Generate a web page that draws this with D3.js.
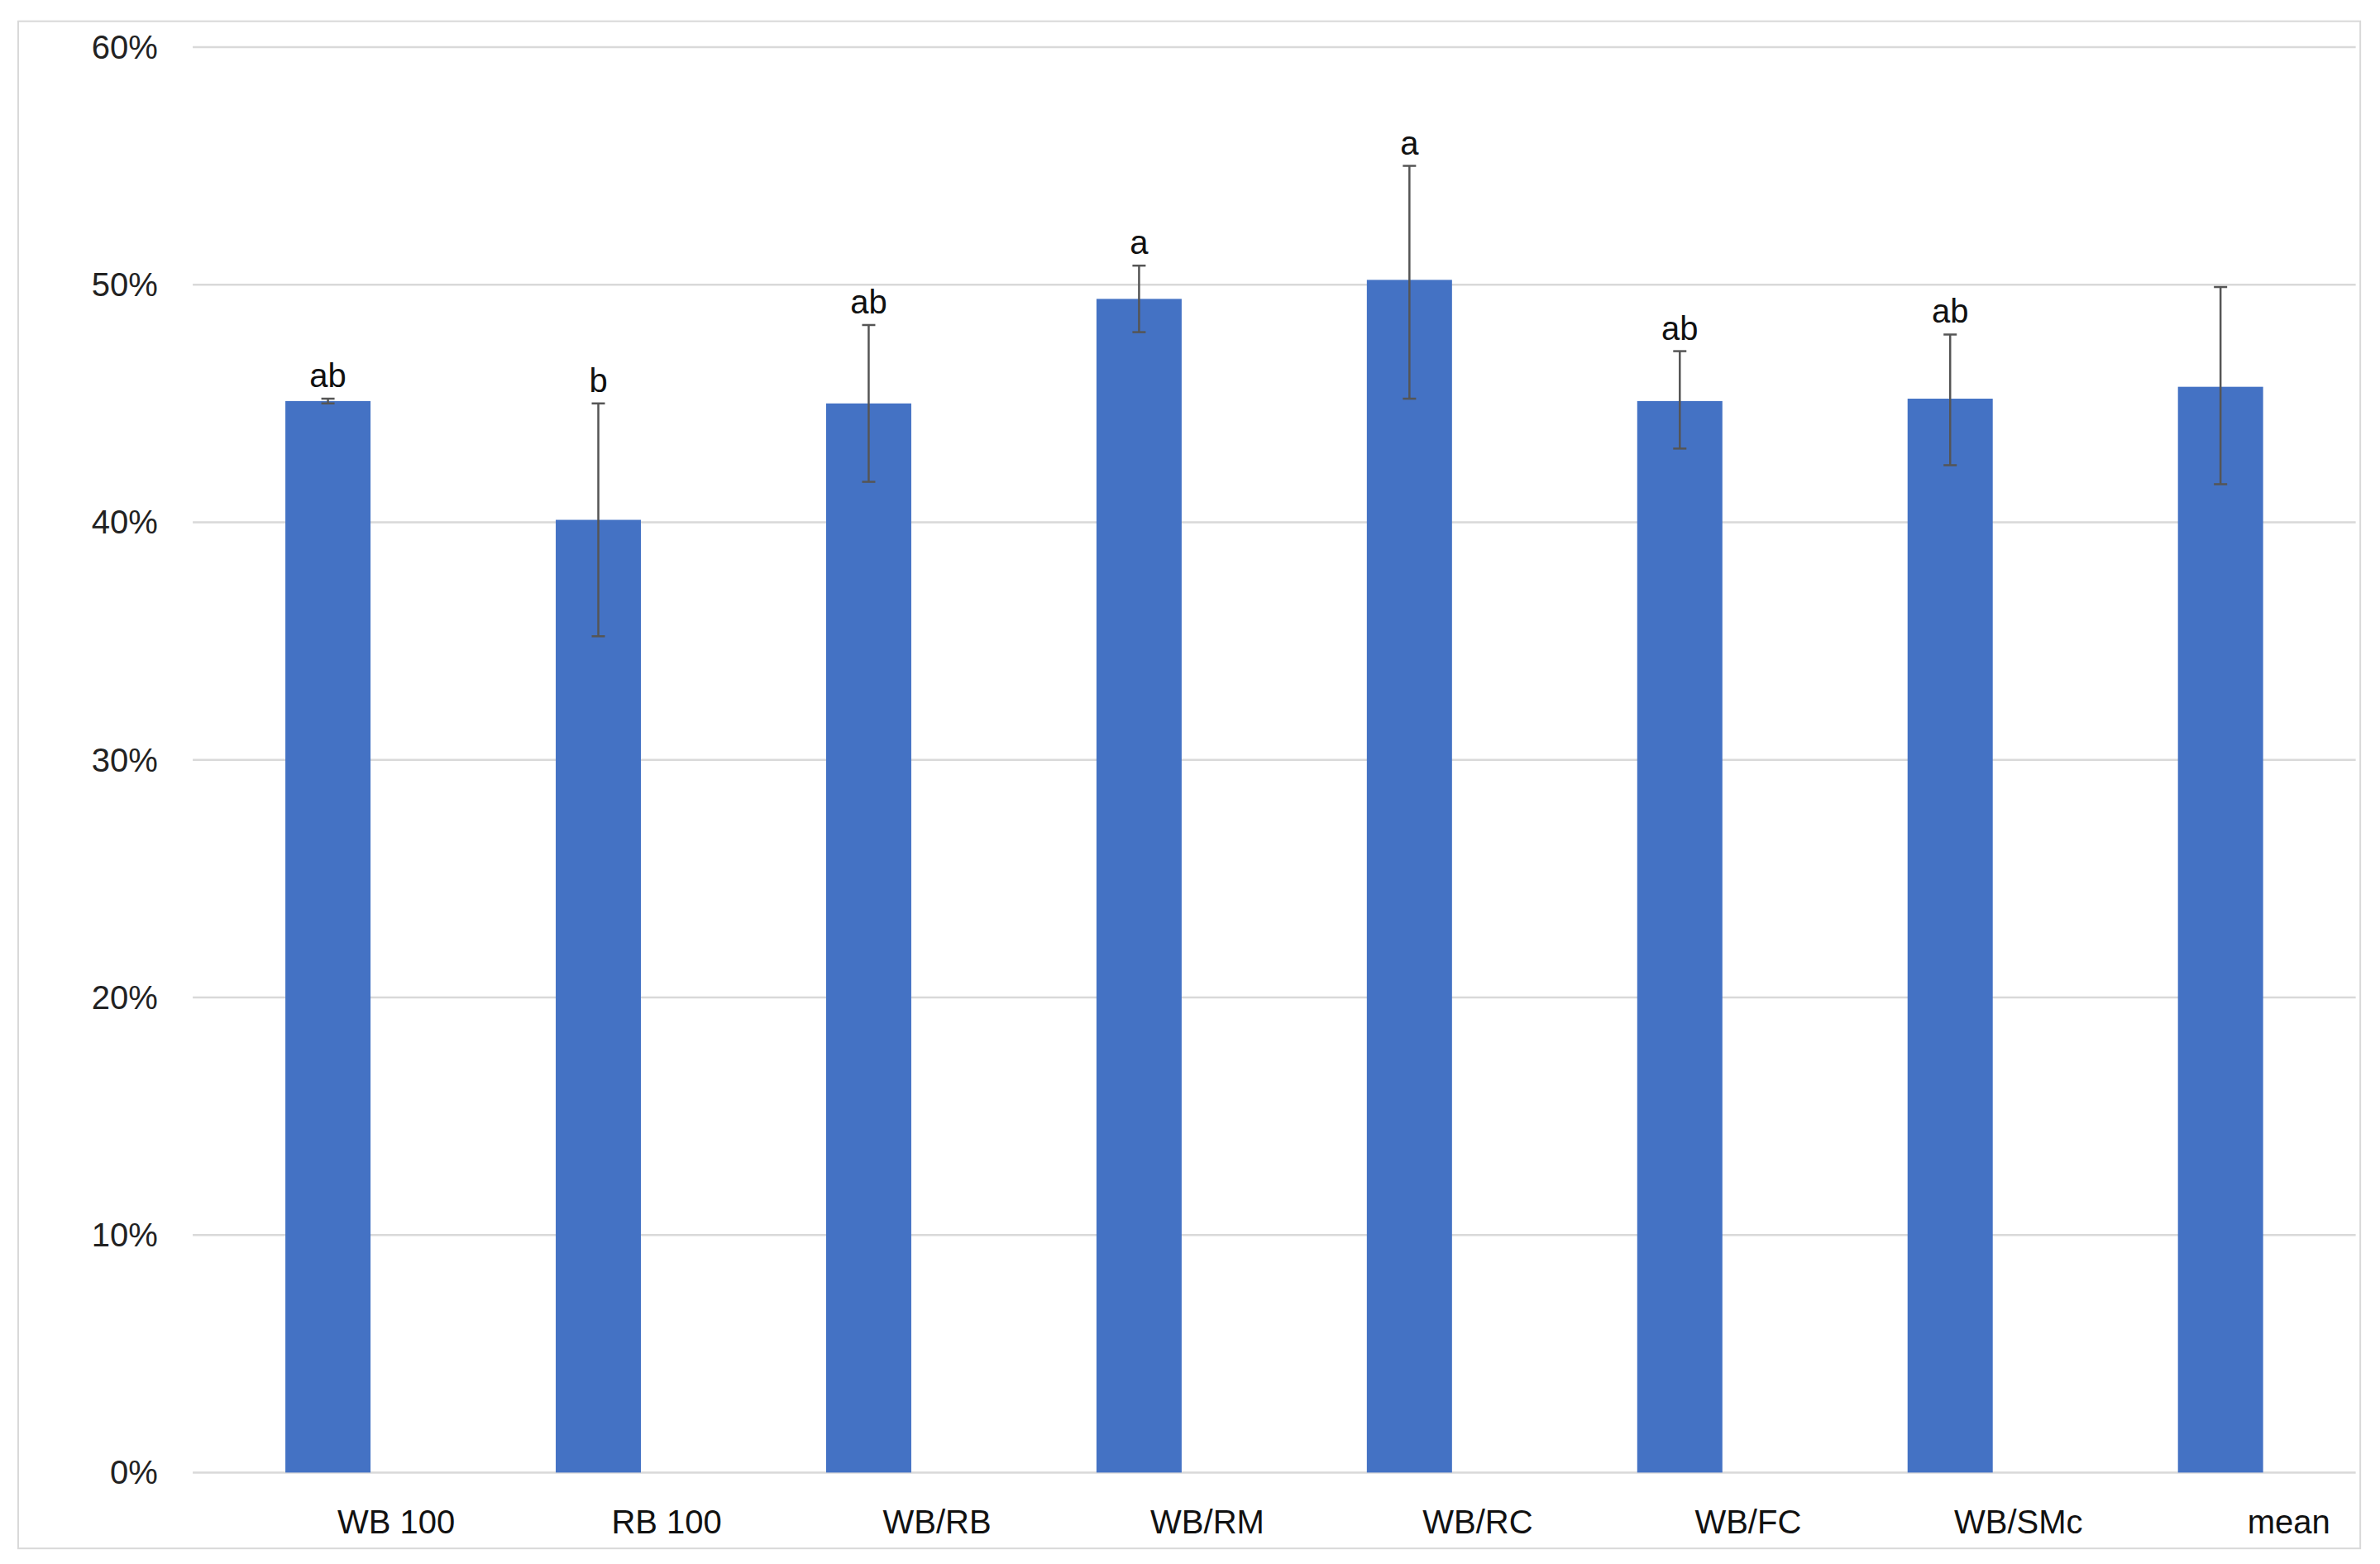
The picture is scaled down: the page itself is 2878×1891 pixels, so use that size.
<!DOCTYPE html><html><head><meta charset="utf-8"><script src="https://cdn.jsdelivr.net/npm/d3@7"></script>
<style>body{margin:0;background:#fff}</style></head><body><svg id="c" width="2878" height="1891"></svg><script>
const categories=["WB 100","RB 100","WB/RB","WB/RM","WB/RC","WB/FC","WB/SMc","mean"];
const values=[45.1,40.1,45.0,49.4,50.2,45.1,45.2,45.7];
const errLow=[45.0,35.2,41.7,48.0,45.2,43.1,42.4,41.6];
const errHigh=[45.2,45.0,48.3,50.8,55.0,47.2,47.9,49.9];
const letters=["ab","b","ab","a","a","ab","ab",""];
const ticks=[0,10,20,30,40,50,60];
const k=2878/1568;
const svg=d3.select("#c");
svg.append("rect").attr("x",12*k).attr("y",14*k).attr("width",1543*k).attr("height",1006*k).attr("fill","#fff").attr("stroke","#d9d9d9").attr("stroke-width",2);
const L=127*k,R=1552*k,T=31*k,B=970*k;
const x=d3.scaleBand().domain(categories).range([L,R]).paddingInner(0.685).paddingOuter(0.3425);
const y=d3.scaleLinear().domain([0,60]).range([B,T]);
const g=svg.append("g");
g.selectAll(".grid").data(ticks).join("line").attr("x1",L).attr("x2",R).attr("y1",d=>y(d)).attr("y2",d=>y(d)).attr("stroke","#d9d9d9").attr("stroke-width",2.5);
g.selectAll(".tl").data(ticks).join("text").attr("x",104*k).attr("y",d=>y(d)).attr("dy","0.35em").attr("text-anchor","end").attr("font-family","Liberation Sans, Arial").attr("font-size",40).attr("fill","#222").text(d=>d+"%");
g.selectAll(".bar").data(values).join("rect").attr("x",(d,i)=>x(categories[i])).attr("width",x.bandwidth()).attr("y",d=>y(d)).attr("height",d=>B-y(d)).attr("fill","#4472c4");
const cx=i=>x(categories[i])+x.bandwidth()/2;
const eb=g.selectAll(".eb").data(values).join("g").attr("stroke","#555").attr("stroke-width",2.5);
eb.append("line").attr("x1",(d,i)=>cx(i)).attr("x2",(d,i)=>cx(i)).attr("y1",(d,i)=>y(errLow[i])).attr("y2",(d,i)=>y(errHigh[i]));
eb.append("line").attr("x1",(d,i)=>cx(i)-8).attr("x2",(d,i)=>cx(i)+8).attr("y1",(d,i)=>y(errLow[i])).attr("y2",(d,i)=>y(errLow[i]));
eb.append("line").attr("x1",(d,i)=>cx(i)-8).attr("x2",(d,i)=>cx(i)+8).attr("y1",(d,i)=>y(errHigh[i])).attr("y2",(d,i)=>y(errHigh[i]));
g.selectAll(".lt").data(letters).join("text").attr("x",(d,i)=>cx(i)).attr("y",(d,i)=>y(errHigh[i])-14).attr("text-anchor","middle").attr("font-family","Liberation Sans, Arial").attr("font-size",40).attr("fill","#111").text(d=>d);
g.selectAll(".cl").data(categories).join("text").attr("x",(d,i)=>cx(i)+45*k).attr("y",1010*k).attr("text-anchor","middle").attr("font-family","Liberation Sans, Arial").attr("font-size",40).attr("fill","#111").text(d=>d);
</script></body></html>
